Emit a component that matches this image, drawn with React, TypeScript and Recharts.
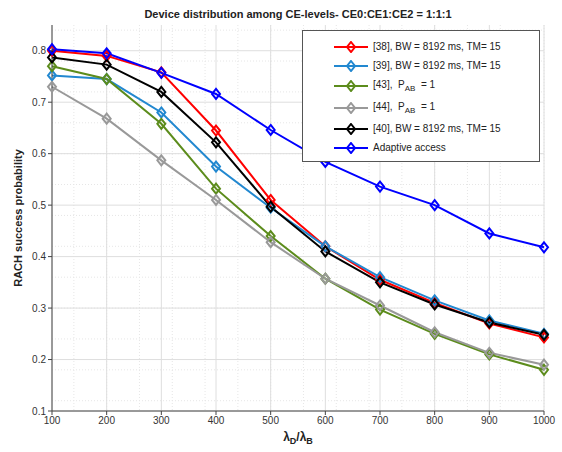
import React from 'react'
import {
  LineChart,
  Line,
  XAxis,
  YAxis,
  CartesianGrid,
  Legend
} from 'recharts'

const loads = [100, 200, 300, 400, 500, 600, 700, 800, 900, 1000]
const ref38 = [0.8, 0.79, 0.758, 0.645, 0.51, 0.42, 0.355, 0.31, 0.27, 0.243]
const ref39 = [0.752, 0.745, 0.68, 0.575, 0.495, 0.42, 0.36, 0.315, 0.276, 0.25]
const ref43 = [0.77, 0.745, 0.658, 0.532, 0.44, 0.357, 0.297, 0.25, 0.21, 0.18]
const ref44 = [0.73, 0.668, 0.587, 0.51, 0.428, 0.357, 0.305, 0.253, 0.213, 0.19]
const ref40 = [0.787, 0.773, 0.72, 0.622, 0.497, 0.41, 0.35, 0.307, 0.272, 0.248]
const adaptive = [0.803, 0.795, 0.757, 0.716, 0.646, 0.584, 0.536, 0.5, 0.445, 0.418]

const yTicks = [0.1, 0.2, 0.3, 0.4, 0.5, 0.6, 0.7, 0.8]

// MATLAB-style minor grid positions
const minorX = Array.from({ length: 46 }, (_, i) => 100 + i * 20)
const minorY = Array.from({ length: 38 }, (_, i) => 0.1 + i * 0.02)

const seriesList = [
  { key: 's38', color: '#ff0000', values: ref38, name: '[38], BW = 8192 ms, TM= 15', sub: false },
  { key: 's39', color: '#2288d0', values: ref39, name: '[39],  BW = 8192 ms, TM= 15', sub: false },
  { key: 's43', color: '#5c8c1c', values: ref43, name: '[43],', sub: true },
  { key: 's44', color: '#999999', values: ref44, name: '[44],', sub: true },
  { key: 's40', color: '#000000', values: ref40, name: '[40],  BW = 8192 ms, TM= 15', sub: false },
  { key: 'adp', color: '#0000ff', values: adaptive, name: 'Adaptive access', sub: false }
]

const chartData = loads.map((x, i) => {
  const row: Record<string, number> = { x }
  seriesList.forEach((s) => {
    row[s.key] = s.values[i]
  })
  return row
})

const font = 'Liberation Sans, Arial, Helvetica, sans-serif'

const Diamond = (props: any) => {
  const { cx, cy, stroke } = props
  if (cx == null || cy == null) return null
  return (
    <polygon
      points={`${cx},${cy - 5} ${cx + 4},${cy} ${cx},${cy + 5} ${cx - 4},${cy}`}
      fill="none"
      stroke={stroke}
      strokeWidth={2}
    />
  )
}

const LegendBox = () => (
  <div
    style={{
      border: '1px solid #555',
      background: '#fff',
      width: 238,
      padding: '6px 0 4px 0',
      fontFamily: font,
      fontSize: 10,
      color: '#222',
      boxSizing: 'border-box'
    }}
  >
    {seriesList.map((s) => (
      <div
        key={s.key}
        style={{ display: 'flex', alignItems: 'center', height: s.sub ? 22 : 19 }}
      >
        <svg width={36} height={12} style={{ marginLeft: 30, marginRight: 4 }}>
          <line x1={1} y1={6} x2={35} y2={6} stroke={s.color} strokeWidth={2} />
          <polygon points="18,1 22,6 18,11 14,6" fill="none" stroke={s.color} strokeWidth={2} />
        </svg>
        {s.sub ? (
          <span>
            {s.name}&nbsp; P<sub style={{ fontSize: 8 }}>AB</sub>&nbsp; = 1
          </span>
        ) : (
          <span>{s.name}</span>
        )}
      </div>
    ))}
  </div>
)

const XLabel = (props: any) => {
  const { viewBox } = props
  const cx = viewBox.x + viewBox.width / 2
  const y = viewBox.y + 30
  return (
    <text x={cx} y={y} textAnchor="middle" fontFamily={font} fontWeight="bold" fontSize={12} fill="#222">
      λ<tspan fontSize={9} dy={3}>D</tspan>
      <tspan dy={-3}>/λ</tspan>
      <tspan fontSize={9} dy={3}>B</tspan>
    </text>
  )
}

export default function App() {
  return (
    <div style={{ position: 'absolute', left: 0, top: 0, width: 562, height: 452, background: '#fff' }}>
      <div
        style={{
          position: 'absolute',
          top: 8,
          left: 52,
          width: 492,
          textAlign: 'center',
          fontFamily: font,
          fontWeight: 'bold',
          fontSize: 11,
          color: '#222'
        }}
      >
        Device distribution among CE-levels- CE0:CE1:CE2 = 1:1:1
      </div>
      <LineChart
        width={562}
        height={452}
        data={chartData}
        margin={{ top: 25, right: 18, left: 12, bottom: 11 }}
      >
        <CartesianGrid
          horizontalValues={minorY}
          verticalValues={minorX}
          stroke="#e6e6e6"
          strokeDasharray="1 2"
        />
        <CartesianGrid
          horizontalValues={yTicks}
          verticalValues={loads}
          stroke="#dedede"
        />
        <XAxis
          dataKey="x"
          type="number"
          domain={[100, 1000]}
          ticks={loads}
          height={30}
          stroke="#444"
          tickSize={4}
          tick={{ fontFamily: font, fontSize: 10, fill: '#333' }}
          label={<XLabel />}
        />
        <XAxis
          xAxisId="top"
          orientation="top"
          type="number"
          domain={[100, 1000]}
          ticks={loads}
          height={0}
          stroke="#444"
          tick={false}
        />
        <YAxis
          type="number"
          domain={[0.1, 0.85]}
          ticks={yTicks}
          width={40}
          stroke="#444"
          tickSize={4}
          tickFormatter={(v: number) => v.toFixed(1)}
          tick={{ fontFamily: font, fontSize: 10, fill: '#333' }}
          label={{
            value: 'RACH success probability',
            angle: -90,
            position: 'insideLeft',
            offset: 6,
            style: { textAnchor: 'middle', fontFamily: font, fontWeight: 'bold', fontSize: 11, fill: '#222' }
          }}
        />
        <YAxis
          yAxisId="right"
          orientation="right"
          type="number"
          domain={[0.1, 0.85]}
          ticks={yTicks}
          width={0}
          stroke="#444"
          tick={false}
        />
        <Legend
          verticalAlign="middle"
          align="center"
          layout="horizontal"
          wrapperStyle={{ position: 'absolute', top: 30, left: 302, width: 240 }}
          content={<LegendBox />}
        />
        {seriesList.map((s) => (
          <Line
            key={s.key}
            dataKey={s.key}
            name={s.name}
            stroke={s.color}
            strokeWidth={2}
            dot={<Diamond />}
            activeDot={false}
            isAnimationActive={false}
          />
        ))}
      </LineChart>
    </div>
  )
}
